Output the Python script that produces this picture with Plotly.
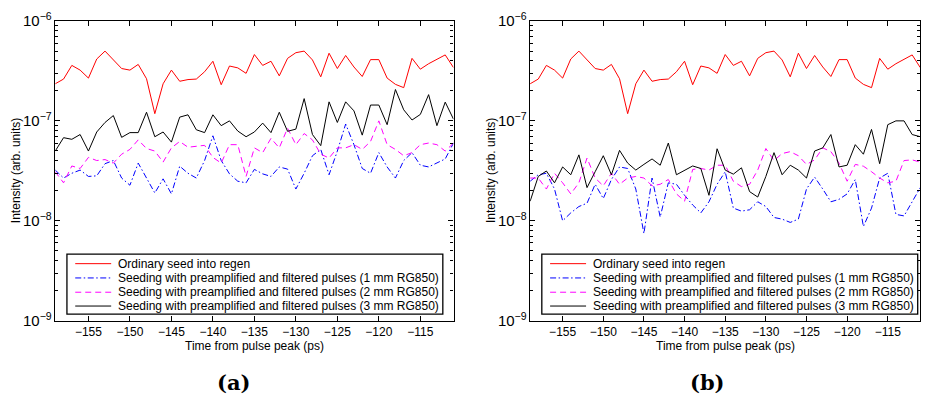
import plotly.graph_objects as go

# ---------------- data ----------------
time_ps = [-159, -158, -157, -156, -155, -154, -153, -152, -151, -150,
           -149, -148, -147, -146, -145, -144, -143, -142, -141, -140,
           -139, -138, -137, -136, -135, -134, -133, -132, -131, -130,
           -129, -128, -127, -126, -125, -124, -123, -122, -121, -120,
           -119, -118, -117, -116, -115, -114, -113, -112, -111]

ordinary = [2.35e-7, 2.62e-7, 3.59e-7, 3.22e-7, 2.68e-7, 4.16e-7, 4.99e-7, 4.07e-7, 3.34e-7, 3.22e-7,
            3.67e-7, 2.64e-7, 1.18e-7, 2.35e-7, 3.22e-7, 2.49e-7, 2.59e-7, 2.62e-7, 3.10e-7, 3.95e-7,
            2.30e-7, 3.54e-7, 3.39e-7, 2.99e-7, 4.61e-7, 3.59e-7, 3.95e-7, 2.82e-7, 4.22e-7, 4.81e-7,
            4.99e-7, 4.07e-7, 2.76e-7, 4.75e-7, 3.34e-7, 4.51e-7, 3.46e-7, 2.78e-7, 4.10e-7, 4.10e-7,
            2.68e-7, 2.32e-7, 2.15e-7, 4.22e-7, 3.29e-7, 3.73e-7, 4.16e-7, 4.57e-7, 3.41e-7]

# panel (a)
rg1_a = [3.22e-8, 2.68e-8, 2.99e-8, 3.22e-8, 2.78e-8, 2.82e-8, 3.73e-8, 4.01e-8, 2.68e-8, 2.27e-8,
         3.78e-8, 2.68e-8, 1.90e-8, 2.63e-8, 1.86e-8, 3.52e-8, 2.99e-8, 2.68e-8, 4.01e-8, 7.09e-8,
         4.01e-8, 2.95e-8, 2.49e-8, 2.40e-8, 3.27e-8, 2.95e-8, 2.78e-8, 3.46e-8, 3.29e-8, 2.08e-8,
         2.99e-8, 4.48e-8, 5.18e-8, 2.89e-8, 4.99e-8, 9.30e-8, 5.78e-8, 3.34e-8, 2.99e-8, 4.81e-8,
         3.46e-8, 2.68e-8, 4.01e-8, 4.81e-8, 3.60e-8, 3.46e-8, 3.78e-8, 4.16e-8, 6.00e-8]
rg2_a = [3.10e-8, 2.40e-8, 3.54e-8, 3.34e-8, 4.31e-8, 4.01e-8, 4.10e-8, 3.78e-8, 4.64e-8, 5.18e-8,
         6.45e-8, 5.29e-8, 4.99e-8, 3.87e-8, 5.37e-8, 6.22e-8, 5.45e-8, 5.57e-8, 5.69e-8, 4.31e-8,
         3.78e-8, 5.78e-8, 5.78e-8, 2.78e-8, 5.37e-8, 4.81e-8, 6.69e-8, 5.37e-8, 8.45e-8, 5.78e-8,
         7.47e-8, 6.45e-8, 4.64e-8, 4.25e-8, 5.37e-8, 5.37e-8, 5.78e-8, 5.18e-8, 6.22e-8, 1.00e-7,
         5.78e-8, 5.18e-8, 4.48e-8, 4.81e-8, 5.78e-8, 6.00e-8, 5.78e-8, 4.99e-8, 6.00e-8]
rg3_a = [4.99e-8, 6.79e-8, 6.54e-8, 7.30e-8, 4.99e-8, 7.74e-8, 9.64e-8, 1.13e-7, 6.84e-8, 7.63e-8,
         7.63e-8, 1.22e-7, 6.94e-8, 7.74e-8, 6.13e-8, 1.09e-7, 1.15e-7, 8.15e-8, 7.63e-8, 1.15e-7,
         8.96e-8, 1.00e-7, 7.91e-8, 6.94e-8, 7.74e-8, 9.50e-8, 7.63e-8, 1.22e-7, 7.86e-8, 8.27e-8,
         1.67e-7, 7.30e-8, 5.65e-8, 1.55e-7, 9.64e-8, 1.55e-7, 1.26e-7, 7.20e-8, 1.44e-7, 1.44e-7,
         9.16e-8, 2.06e-7, 1.29e-7, 1.02e-7, 1.16e-7, 1.83e-7, 8.96e-8, 1.54e-7, 1.04e-7]

# panel (b)
rg1_b = [2.49e-8, 2.89e-8, 2.99e-8, 2.08e-8, 1.00e-8, 1.20e-8, 1.39e-8, 1.50e-8, 2.32e-8, 1.67e-8,
         2.59e-8, 3.46e-8, 3.34e-8, 2.08e-8, 7.46e-9, 2.68e-8, 1.09e-8, 2.40e-8, 2.32e-8, 1.80e-8,
         1.44e-8, 1.20e-8, 1.55e-8, 2.32e-8, 3.10e-8, 1.34e-8, 1.25e-8, 1.29e-8, 1.55e-8, 1.39e-8,
         1.08e-8, 1.04e-8, 9.64e-9, 1.04e-8, 2.08e-8, 2.74e-8, 2.08e-8, 1.55e-8, 1.64e-8, 1.86e-8,
         2.59e-8, 8.77e-9, 1.34e-8, 2.68e-8, 2.99e-8, 1.16e-8, 1.12e-8, 1.55e-8, 2.15e-8]
rg2_b = [2.68e-8, 2.68e-8, 2.08e-8, 2.99e-8, 2.40e-8, 1.86e-8, 2.40e-8, 4.25e-8, 2.68e-8, 2.24e-8,
         2.99e-8, 2.32e-8, 2.68e-8, 2.78e-8, 2.68e-8, 2.24e-8, 2.32e-8, 2.59e-8, 1.86e-8, 1.57e-8,
         3.27e-8, 3.34e-8, 3.22e-8, 3.60e-8, 3.60e-8, 2.49e-8, 2.20e-8, 2.32e-8, 3.22e-8, 5.29e-8,
         4.01e-8, 4.71e-8, 4.92e-8, 4.48e-8, 3.67e-8, 4.07e-8, 5.37e-8, 4.92e-8, 3.78e-8, 2.49e-8,
         3.67e-8, 3.52e-8, 3.10e-8, 2.68e-8, 2.40e-8, 2.49e-8, 4.01e-8, 4.07e-8, 3.87e-8]
rg3_b = [1.57e-8, 2.78e-8, 3.15e-8, 2.40e-8, 3.46e-8, 2.89e-8, 4.57e-8, 2.15e-8, 3.10e-8, 4.48e-8,
         2.89e-8, 5.07e-8, 3.78e-8, 3.22e-8, 3.67e-8, 4.16e-8, 3.60e-8, 6.00e-8, 2.89e-8, 3.22e-8,
         3.54e-8, 3.34e-8, 1.80e-8, 5.26e-8, 3.22e-8, 2.93e-8, 3.39e-8, 1.96e-8, 1.73e-8, 2.78e-8,
         4.81e-8, 2.89e-8, 3.60e-8, 3.22e-8, 2.68e-8, 4.99e-8, 5.37e-8, 7.30e-8, 3.46e-8, 3.60e-8,
         5.78e-8, 4.64e-8, 8.21e-8, 3.73e-8, 9.16e-8, 1.00e-7, 1.00e-7, 7.30e-8, 6.94e-8]

series_names = ["Ordinary seed into regen",
                "Seeding with preamplified and filtered pulses (1 mm RG850)",
                "Seeding with preamplified and filtered pulses (2 mm RG850)",
                "Seeding with preamplified and filtered pulses (3 mm RG850)"]
x_ticks = [-155, -150, -145, -140, -135, -130, -125, -120, -115]
panel_labels = ["(a)", "(b)"]
x_title = "Time from pulse peak (ps)"
y_title = "Intensity (arb. units)"

# ---------------- styles ----------------
colors = ["#ff0000", "#0000ff", "#ff00ff", "#000000"]
dashes = ["solid", "6px,2.5px,1.5px,2.5px", "6px,4px", "solid"]
FONT = "Liberation Sans, Arial, sans-serif"
OFF = 8                              # default page-body margin
W, H = 930 - 2 * OFF, 412 - 2 * OFF  # figure fits the window exactly

panels = [
    dict(xd=(55.3, 454.0), data=[ordinary, rg1_a, rg2_a, rg3_a]),
    dict(xd=(530.7, 921.3), data=[ordinary, rg1_b, rg2_b, rg3_b]),
]
y_top, y_bot = 10.0, 325.0


def px(xpix):
    return (xpix - OFF) / W


def py(ypix):
    return 1 - (ypix - OFF) / H


fig = go.Figure()
shapes, annotations = [], []
for p, panel in enumerate(panels):
    sfx = "" if p == 0 else str(p + 1)
    for k, ys in enumerate(panel["data"]):
        fig.add_trace(go.Scatter(
            x=time_ps, y=ys, mode="lines", name=series_names[k], showlegend=False,
            line=dict(color=colors[k], width=1, dash=dashes[k]),
            xaxis="x" + sfx, yaxis="y" + sfx))
    x0, x1 = panel["xd"]
    axcommon = dict(showline=True, linecolor="black", linewidth=1.3, mirror="ticks",
                    ticks="inside", tickcolor="black", tickwidth=1, showgrid=False,
                    zeroline=False, ticklabeloverflow="allow",
                    tickfont=dict(family=FONT, size=12, color="black"))
    fig.update_layout(**{
        "xaxis" + sfx: dict(domain=[px(x0), px(x1)], range=[-159, -111], anchor="y" + sfx,
                            tickvals=x_ticks, ticklen=5, **axcommon),
        "yaxis" + sfx: dict(domain=[py(y_bot), py(y_top)], type="log",
                            range=[-9.0002, -5.9998],
                            anchor="x" + sfx, dtick=1, exponentformat="power",
                            showexponent="all", ticklen=5,
                            minor=dict(ticks="inside", ticklen=3, dtick="D1",
                                       tickcolor="black", tickwidth=1, showgrid=False),
                            **axcommon),
    })
    # axis titles
    annotations.append(dict(text=x_title, x=px((x0 + x1) / 2), y=py(352), xref="paper",
                            yref="paper", showarrow=False, xanchor="center", yanchor="middle",
                            font=dict(family=FONT, size=12, color="black")))
    annotations.append(dict(text=y_title, x=px(x0 - 39), y=py((y_top + y_bot) / 2),
                            xref="paper", yref="paper", showarrow=False, textangle=-90,
                            xanchor="center", yanchor="middle",
                            font=dict(family=FONT, size=12, color="black")))
    # panel label
    annotations.append(dict(text="<b>" + panel_labels[p] + "</b>", x=px(x0 + 178), y=py(390),
                            xref="paper", yref="paper", showarrow=False, xanchor="center",
                            yanchor="middle",
                            font=dict(family="DejaVu Serif", size=21, color="black")))
    # legend box (drawn)
    lx0, lx1 = x0 + 11.7, x0 + 388
    ly0, ly1 = 255, 318
    shapes.append(dict(type="rect", xref="paper", yref="paper", x0=px(lx0), x1=px(lx1),
                       y0=py(ly1), y1=py(ly0), line=dict(color="black", width=1.3),
                       fillcolor="white", layer="above"))
    rows = [265, 280, 295, 309.5]
    for k in range(4):
        shapes.append(dict(type="line", xref="paper", yref="paper", x0=px(x0 + 20),
                           x1=px(x0 + 56), y0=py(rows[k]), y1=py(rows[k]),
                           line=dict(color=colors[k], width=1, dash=dashes[k]), layer="above"))
        annotations.append(dict(text=series_names[k], x=px(x0 + 60.5), y=py(rows[k]),
                                xref="paper", yref="paper", showarrow=False, xanchor="left",
                                yanchor="middle",
                                font=dict(family=FONT, size=12, color="black")))

fig.update_layout(width=W, height=H, margin=dict(l=0, r=0, t=0, b=0),
                  paper_bgcolor="white", plot_bgcolor="white", showlegend=False,
                  shapes=shapes, annotations=annotations)

fig.write_html("out.html", config={"displayModeBar": False})
